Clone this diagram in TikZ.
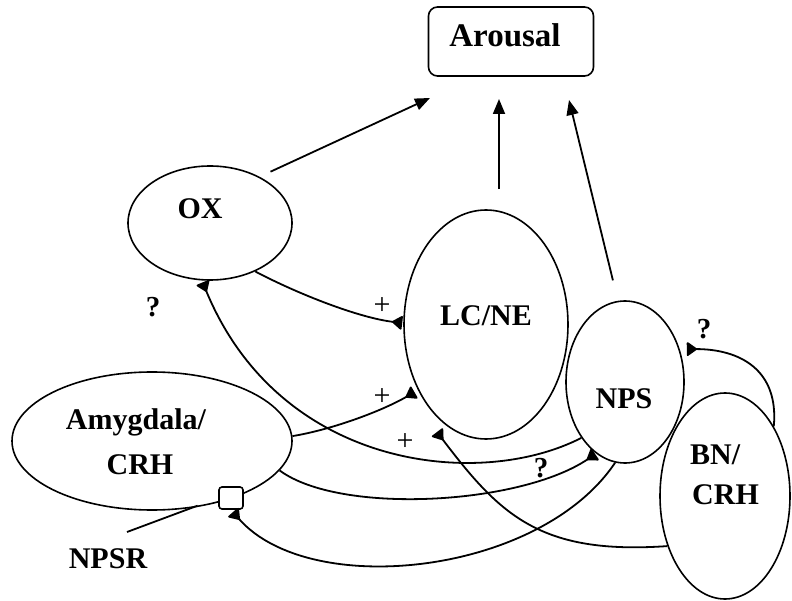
\documentclass[tikz,border=0pt]{standalone}
\usepackage{fontspec}
\setmainfont{Liberation Serif}
\usetikzlibrary{arrows.meta,shapes.geometric}
\begin{document}
\begin{tikzpicture}[x=1pt,y=-1pt,
  ell/.style={draw,ellipse,line width=1.6pt,inner sep=0pt},
  lbl/.style={font=\fontsize{30}{36}\selectfont\bfseries,inner sep=0pt,anchor=base},
  sml/.style={font=\fontsize{30}{34}\selectfont,inner sep=0pt},
  qml/.style={font=\fontsize{29}{34}\selectfont\bfseries,inner sep=0pt},
  con/.style={line width=1.8pt},
  arr/.style={con,-{Triangle[length=15pt,width=12pt]}},
  syn/.style={con,-{Triangle[reversed,length=11pt,width=15pt,round]}},
]
\useasboundingbox (0,0) rectangle (792,601);

% boxes and ellipses
\node[draw,line width=1.6pt,rounded corners=9pt,minimum width=165pt,minimum height=69pt,inner sep=0pt] (arousal) at (511,41.5) {};
\node[ell,minimum width=164pt,minimum height=114pt] (ox) at (210,223) {};
\node[ell,minimum width=164pt,minimum height=229pt] (lcne) at (486,324.5) {};
\node[ell,minimum width=118pt,minimum height=162pt] (nps) at (625,382) {};
\node[ell,minimum width=130pt,minimum height=206pt] (bn) at (725,496) {};
\node[ell,minimum width=280pt,minimum height=138pt] (amy) at (152,441) {};

% texts
\node[lbl,font=\fontsize{33}{38}\selectfont\bfseries] (tArousal) at (505,47) {Arousal};
\node[lbl] (tOX) at (200,219) {OX};
\node[lbl] (tLC) at (486,326) {LC/NE};
\node[lbl] (tNPS) at (624,408) {NPS};
\node[lbl] (tAmy1) at (136,429) {Amygdala/};
\node[lbl] (tAmy2) at (140,474) {CRH};
\node[lbl,anchor=base west] (tBN1) at (690,464) {BN/};
\node[lbl,anchor=base west] (tBN2) at (692,504) {CRH};
\node[lbl] (tNPSR) at (108,568) {NPSR};

% arrows to arousal
\coordinate (t1) at (430,98);
\coordinate (t2) at (499,99);
\coordinate (t3) at (569,100);
\draw[arr,shorten <=12pt] (ox.43) -- (t1);
\draw[arr,shorten <=20pt] (lcne.north -| t2) -- (t2);
\draw[arr,shorten <=21pt] (nps.95) -- (t3);

% synaptic connectors
\coordinate (bnend) at (437,432);
\draw[syn,shorten >=1pt] (ox.-47) .. controls (300,295) and (360,318) .. (lcne.179);
\draw[syn,shorten >=4pt] (amy.2.5) .. controls (330,430) and (380,412) .. (lcne.-136);
\draw[syn,shorten >=2pt] (nps.232) .. controls (480,490) and (280,470) .. (ox.-98);
\draw[syn,shorten >=1pt] (amy.-13) .. controls (340,515) and (520,505) .. (nps.-112);
\draw[syn] (bn.221) .. controls (540,555) and (500,515) .. (bnend);
\draw[syn,shorten >=7pt] (bn.55) .. controls (779,370) and (740,349) .. (nps.31);

% NPSR receptor
\node[draw,fill=white,line width=1.6pt,rounded corners=3pt,minimum width=24pt,minimum height=22pt,inner sep=0pt] (npsr) at (231,498) {};
\draw[syn,shorten >=3pt] (nps.-97) .. controls (540,575) and (310,600) .. (npsr.south);
\coordinate (ptr) at (127,532);
\draw[con,shorten >=22pt] (ptr) -- (npsr.west);

% small labels
\node[sml] (p1) at (382,306) {+};
\node[sml] (p2) at (382,397) {+};
\node[sml] (p3) at (405,442) {+};
\node[qml] (q1) at (153,307) {?};
\node[qml] (q2) at (541,468) {?};
\node[qml] (q3) at (704,329) {?};
\end{tikzpicture}
\end{document}
